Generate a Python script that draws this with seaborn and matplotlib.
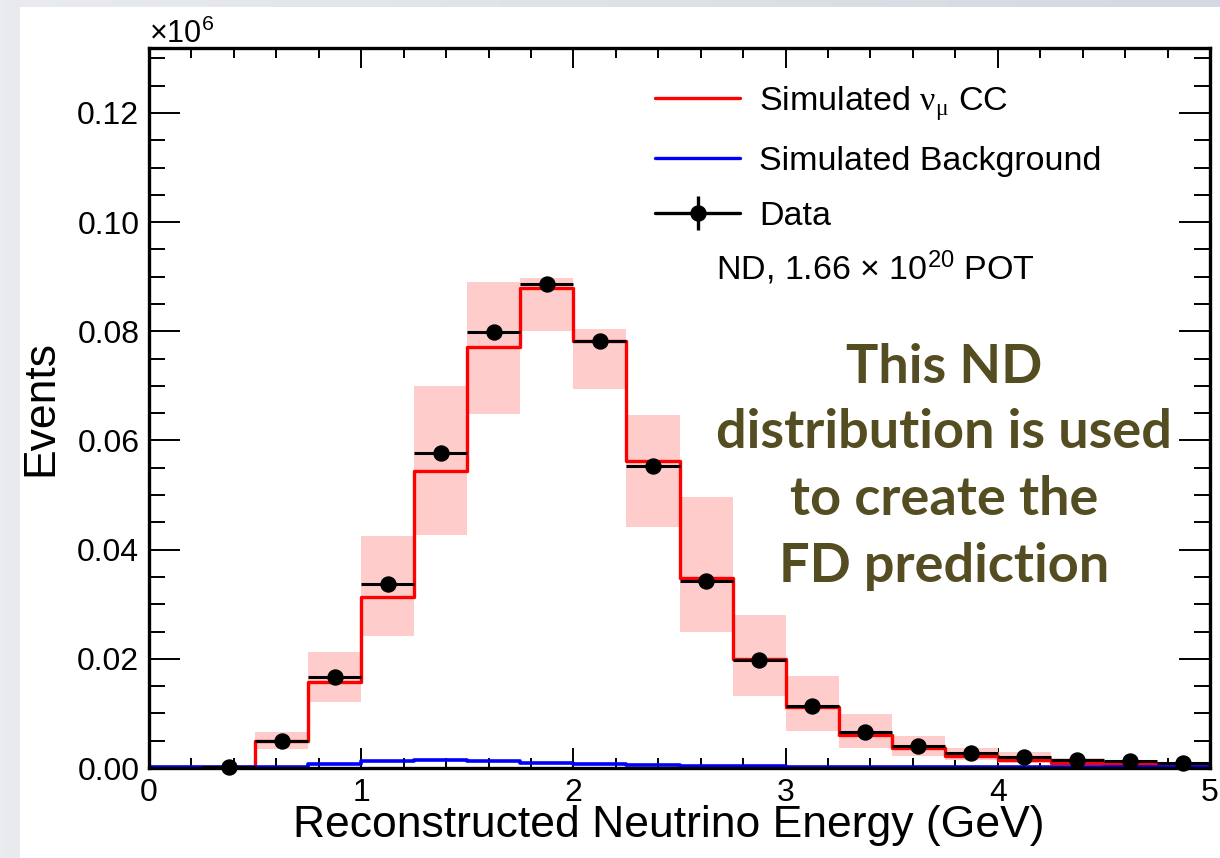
import numpy as np
import pandas as pd
import matplotlib
matplotlib.use("Agg")
import matplotlib.pyplot as plt
from matplotlib.lines import Line2D
from matplotlib.patches import Rectangle
from matplotlib.colors import LinearSegmentedColormap
from matplotlib.legend_handler import HandlerTuple
import seaborn as sns

# ---------------- data (units of 10^6 events) ----------------
bin_edges = [0.0, 0.25, 0.5, 0.75, 1.0, 1.25, 1.5, 1.75, 2.0, 2.25, 2.5,
             2.75, 3.0, 3.25, 3.5, 3.75, 4.0, 4.25, 4.5, 4.75, 5.0]
bin_centers = [0.125, 0.375, 0.625, 0.875, 1.125, 1.375, 1.625, 1.875, 2.125,
               2.375, 2.625, 2.875, 3.125, 3.375, 3.625, 3.875, 4.125, 4.375,
               4.625, 4.875]

mc_numu_cc = [0.0002, 0.0002, 0.0050, 0.0157, 0.0313, 0.0544, 0.0771, 0.0879,
              0.0783, 0.0562, 0.0348, 0.0199, 0.0111, 0.0060, 0.0036, 0.0022,
              0.0015, 0.0010, 0.0007, 0.0005]
mc_background = [0.0001, 0.0001, 0.0002, 0.0008, 0.0013, 0.0014, 0.0012, 0.0010,
                 0.0008, 0.0006, 0.0004, 0.0003, 0.0002, 0.0002, 0.0001, 0.0001,
                 0.0001, 0.0001, 0.0001, 0.0001]
band_low = [0.0001, 0.0001, 0.0035, 0.0121, 0.0241, 0.0427, 0.0649, 0.0801,
            0.0694, 0.0442, 0.0249, 0.0131, 0.0068, 0.0037, 0.0022, 0.0015,
            0.0009, 0.0006, 0.0004, 0.0003]
band_high = [0.0003, 0.0003, 0.0066, 0.0212, 0.0425, 0.0699, 0.0890, 0.0898,
             0.0804, 0.0646, 0.0497, 0.0280, 0.0169, 0.0099, 0.0059, 0.0037,
             0.0029, 0.0018, 0.0012, 0.0009]
data_events = [np.nan, 0.0001, 0.0050, 0.0167, 0.0337, 0.0577, 0.0799, 0.0887,
               0.0782, 0.0553, 0.0343, 0.0198, 0.0113, 0.0066, 0.0041, 0.0027,
               0.0020, 0.0014, 0.0012, 0.0010]
data_err = [0.0, 0.0001, 0.0002, 0.0001, 0.0002, 0.0002, 0.0003, 0.0003,
            0.0003, 0.0002, 0.0002, 0.0001, 0.0001, 0.0001, 0.0001, 0.0001,
            0.0000, 0.0000, 0.0000, 0.0000]

x_ticks = [0, 1, 2, 3, 4, 5]
y_ticks = [0.00, 0.02, 0.04, 0.06, 0.08, 0.10, 0.12]

label_numu = "Simulated $\\mathsf{\\nu}_{\\mathsf{\\mu}}$ CC"
label_bkg = "Simulated Background"
label_data = "Data"
exposure_text = "ND, 1.66 \u00d7 10$^{20}$ POT"
note_lines = ["This ND", "distribution is used", "to create the", "FD prediction"]

df = pd.DataFrame({"energy": bin_centers, "numu": mc_numu_cc,
                   "bkg": mc_background, "lo": band_low, "hi": band_high,
                   "data": data_events, "err": data_err})

# ---------------- style ----------------
sns.set_style("ticks")
plt.rcParams["font.family"] = ["Liberation Sans", "DejaVu Sans"]
plt.rcParams["mathtext.fontset"] = "custom"
plt.rcParams["mathtext.rm"] = "Liberation Sans"
plt.rcParams["mathtext.it"] = "Liberation Sans:italic"
plt.rcParams["mathtext.sf"] = "Liberation Serif"
for k in ["text.color", "axes.labelcolor", "xtick.color", "ytick.color",
          "axes.edgecolor"]:
    plt.rcParams[k] = "black"

W, H = 1220, 858
fig = plt.figure(figsize=(W / 100, H / 100), dpi=100)

# slide background
bg = fig.add_axes([0, 0, 1, 1], zorder=-10)
grad_cmap = LinearSegmentedColormap.from_list("bg", ["#e9ebee", "#d3d9e2"])
bg.imshow(np.linspace(0, 1, 256)[None, :], extent=[0, 1, 0, 1], aspect="auto",
          cmap=grad_cmap)
bg.add_patch(Rectangle((20 / W, 0), 1 - 20 / W, (H - 7) / H, facecolor="white",
                       edgecolor="none"))
bg.set_xlim(0, 1)
bg.set_ylim(0, 1)
bg.axis("off")

ax = fig.add_axes([149 / W, (H - 768) / H, 1061 / W, 720 / H])
ax.set_facecolor("white")

# systematic band
ax.bar(df["energy"], df["hi"] - df["lo"], bottom=df["lo"],
       width=0.25, color="#ffcccc", linewidth=0, zorder=1)

# simulated histograms
sns.histplot(data=df, x="energy", weights="numu", bins=bin_edges,
             element="step", fill=False, color="#ff0000", linewidth=2.4, ax=ax)
sns.histplot(data=df, x="energy", weights="bkg", bins=bin_edges,
             element="step", fill=False, color="#0000ff", linewidth=2.6, ax=ax)

# data
data_cont = ax.errorbar(df["energy"], df["data"], xerr=0.125, yerr=df["err"],
                        fmt="o", color="black", ms=10.8, elinewidth=2.2,
                        capsize=0, zorder=6, clip_on=False)
for art in data_cont.lines[2]:
    art.set_clip_on(False)
data_cont.lines[0].set_clip_on(False)

ax.set_xlim(0, 5)
ax.set_ylim(0, 0.1319)
ax.set_xticks(x_ticks)
ax.set_xticklabels([str(t) for t in x_ticks])
ax.set_yticks(y_ticks)
ax.set_yticklabels([f"{t:.2f}" for t in y_ticks])
ax.xaxis.set_minor_locator(matplotlib.ticker.MultipleLocator(0.2))
ax.yaxis.set_minor_locator(matplotlib.ticker.MultipleLocator(0.005))
ax.tick_params(which="both", direction="in", top=True, right=True,
               color="black", labelcolor="black", width=1.4, labelsize=23,
               pad=7)
ax.tick_params(axis="y", which="major", length=22)
ax.tick_params(axis="y", which="minor", length=11.5)
ax.tick_params(axis="x", which="major", length=14.4)
ax.tick_params(axis="x", which="minor", length=7.2)
for sp in ax.spines.values():
    sp.set_linewidth(2.4)
    sp.set_color("black")
    sp.set_visible(True)
    sp.set_zorder(5)

ax.set_xlabel("Reconstructed Neutrino Energy (GeV)", fontsize=32, color="black")
ax.set_ylabel("Events", fontsize=32, color="black")
ax.xaxis.set_label_coords(0.49, -0.052)
ax.yaxis.set_label_coords(-0.083, 0.5)

ax.text(0.0, 1.007, "\u00d710$^{6}$", transform=ax.transAxes, fontsize=22,
        ha="left", va="baseline")

# legend
h_numu = Line2D([], [], color="#ff0000", lw=2.4)
h_bkg = Line2D([], [], color="#0000ff", lw=2.4)
h_data = (Line2D([], [], color="black", lw=2.4),
          Line2D([], [], color="black", marker="|", ms=24, mew=2.4, ls="none"),
          Line2D([], [], color="black", marker="o", ms=10.8, ls="none"))
leg = ax.legend([h_numu, h_bkg, h_data], [label_numu, label_bkg, label_data],
                handler_map={tuple: HandlerTuple(ndivide=1)},
                loc="upper left", bbox_to_anchor=(0.477, 0.95), frameon=False,
                borderpad=0, borderaxespad=0, handlelength=2.5,
                handletextpad=0.55, labelspacing=0.70, fontsize=24.5)

ax.text(0.534, 0.678, exposure_text, transform=ax.transAxes, fontsize=24.5,
        ha="left", va="baseline")

note_baselines = [0.5347, 0.4444, 0.3514, 0.2583]
for line, yb in zip(note_lines, note_baselines):
    ax.text(0.749, yb, line, transform=ax.transAxes, fontsize=39,
            family=["Lato", "DejaVu Sans"], fontweight="bold", color="#554d22",
            ha="center", va="baseline", zorder=7)

fig.savefig("out.png", dpi=100)
